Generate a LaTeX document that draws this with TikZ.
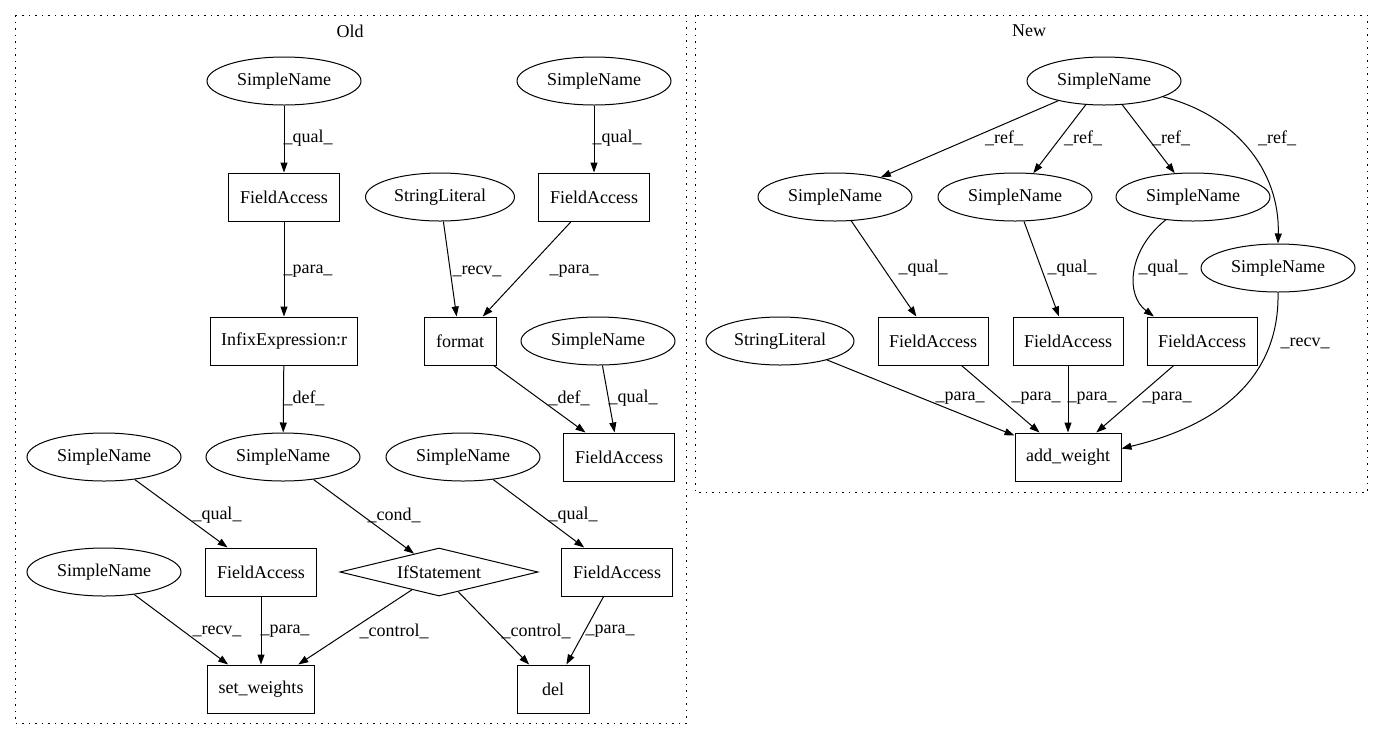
\documentclass[tikz,border=0pt]{standalone}
\usepackage{fontspec}
\setmainfont{Liberation Serif}
\usetikzlibrary{shapes.geometric,arrows.meta}
\begin{document}
\begin{tikzpicture}[x=1pt,y=-1pt,
 every node/.style={font=\fontsize{18}{20}\selectfont, inner sep=0pt},
 sn/.style={ellipse,draw,line width=1pt,minimum width=154pt,minimum height=48pt},
 box/.style={rectangle,draw,line width=1pt,minimum height=48pt},
 dia/.style={diamond,draw,line width=1pt,minimum width=198pt,minimum height=48pt,aspect=4},
 e/.style={draw,line width=1pt,-{Triangle[length=10pt,width=7pt]}},
 cluster/.style={draw,line width=1pt,dash pattern=on 1.5pt off 5pt}]
\useasboundingbox[fill=white] (0,0) rectangle (1383,740);
% clusters
\draw[cluster] (15,15) rectangle (686,723);
\draw[cluster] (695,15) rectangle (1367,492);
\node (oldlbl) at (350,31) {Old};
\node (newlbl) at (1029,31) {New};
% ---- Old ----
\node[sn] (sn1) at (284,81) {SimpleName};
\node[sn] (sn2) at (594,81) {SimpleName};
\node[box,minimum width=111pt] (fa1) at (284,197) {FieldAccess};
\node[sn,minimum width=149pt] (sl1) at (440,197) {StringLiteral};
\node[box,minimum width=111pt] (fa2) at (594,197) {FieldAccess};
\node[box,minimum width=147pt] (infix) at (284,341) {InfixExpression:r};
\node[box,minimum width=72pt] (fmt) at (460,341) {format};
\node[sn] (sn3) at (598,341) {SimpleName};
\node[sn] (snl) at (104,457) {SimpleName};
\node[sn] (sndef) at (283,457) {SimpleName};
\node[sn] (snr) at (463,457) {SimpleName};
\node[box,minimum width=111pt] (fa3) at (619,457) {FieldAccess};
\node[sn] (snbl) at (104,572) {SimpleName};
\node[box,minimum width=111pt] (fal) at (261,572) {FieldAccess};
\node[dia] (ifs) at (439,572) {IfStatement};
\node[box,minimum width=111pt] (far) at (617,572) {FieldAccess};
\node[box,minimum width=107pt] (sw) at (261,689) {set\_weights};
\node[box,minimum width=72pt] (del) at (553,689) {del};
\draw[e] (sn1) -- (fa1);
\draw[e] (sn2) -- (fa2);
\draw[e] (fa1) -- (infix);
\draw[e] (sl1) -- (fmt);
\draw[e] (fa2) -- (fmt);
\draw[e] (infix) -- (sndef);
\draw[e] (fmt) -- (fa3);
\draw[e] (sn3) -- (fa3);
\draw[e] (snl) -- (fal);
\draw[e] (sndef) -- (ifs);
\draw[e] (snr) -- (far);
\draw[e] (snbl) -- (sw);
\draw[e] (fal) -- (sw);
\draw[e] (ifs) -- (sw);
\draw[e] (ifs) -- (del);
\draw[e] (far) -- (del);
\node (l1) at (308,138) {\_qual\_};
\node (l2) at (617,138) {\_qual\_};
\node (l3) at (308,271) {\_para\_};
\node (l4) at (477,271) {\_recv\_};
\node (l5) at (574,271) {\_para\_};
\node (l6) at (304,398) {\_def\_};
\node (l7) at (569,398) {\_def\_};
\node (l8) at (633,398) {\_qual\_};
\node (l9) at (217,515) {\_qual\_};
\node (l10) at (394,515) {\_cond\_};
\node (l11) at (573,515) {\_qual\_};
\node (l12) at (217,631) {\_recv\_};
\node (l13) at (285,631) {\_para\_};
\node (l14) at (394,631) {\_control\_};
\node (l15) at (536,631) {\_control\_};
\node (l16) at (610,631) {\_para\_};
% ---- New ----
\node[sn] (top) at (1104,81) {SimpleName};
\node[sn] (sna) at (835,197) {SimpleName};
\node[sn] (snb) at (1015,197) {SimpleName};
\node[sn] (snc) at (1193,197) {SimpleName};
\node[sn] (snd) at (1278,268) {SimpleName};
\node[sn,minimum width=148pt] (sl2) at (780,341) {StringLiteral};
\node[box,minimum width=110pt] (faa) at (933,341) {FieldAccess};
\node[box,minimum width=110pt] (fab) at (1068,341) {FieldAccess};
\node[box,minimum width=110pt] (fac) at (1202,341) {FieldAccess};
\node[box,minimum width=106pt] (aw) at (1068,457) {add\_weight};
\draw[e] (top) -- (sna);
\draw[e] (top) -- (snb);
\draw[e] (top) -- (snc);
\draw[e] (top.-15) .. controls (1235,115) and (1280,170) .. (snd.north);
\draw[e] (sna) -- (faa);
\draw[e] (snb) -- (fab);
\draw[e] (snc.-140) .. controls (1128,250) and (1125,295) .. (fac.153);
\draw[e] (snd.south) .. controls (1280,390) and (1200,430) .. (aw.9);
\draw[e] (sl2) -- (aw);
\draw[e] (faa) -- (aw);
\draw[e] (fab) -- (aw);
\draw[e] (fac) -- (aw);
\node (m1) at (1004,138) {\_ref\_};
\node (m2) at (1083,138) {\_ref\_};
\node (m3) at (1171,138) {\_ref\_};
\node (m4) at (1277,138) {\_ref\_};
\node (m5) at (923,268) {\_qual\_};
\node (m6) at (1072,268) {\_qual\_};
\node (m7) at (1163,268) {\_qual\_};
\node (m8) at (1305,343) {\_recv\_};
\node (m9) at (960,398) {\_para\_};
\node (m10) at (1036,398) {\_para\_};
\node (m11) at (1092,398) {\_para\_};
\node (m12) at (1167,398) {\_para\_};
\end{tikzpicture}
\end{document}
